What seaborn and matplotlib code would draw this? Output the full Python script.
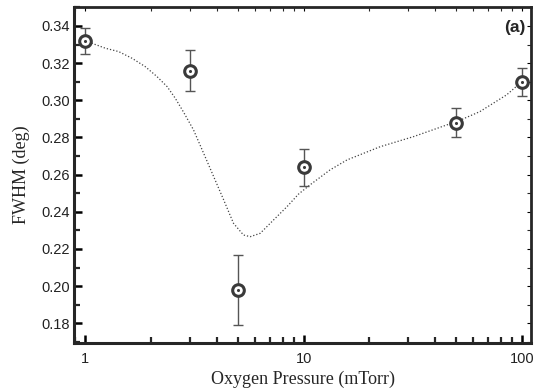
import numpy as np
import pandas as pd
import matplotlib
matplotlib.use("Agg")
import matplotlib.pyplot as plt
import seaborn as sns
from matplotlib.ticker import FixedLocator, LogLocator, MultipleLocator, NullFormatter

# Data
pressure = [1, 3, 5, 10, 50, 100]
fwhm = [0.332, 0.316, 0.198, 0.264, 0.288, 0.310]
err = [0.007, 0.011, 0.019, 0.010, 0.008, 0.0075]

fit_x = [1.0, 1.07, 1.235, 1.42, 1.635, 1.88, 2.13, 2.37, 2.58, 2.82, 3.13, 3.48, 3.87,
         4.30, 4.77, 5.30, 5.69, 6.32, 7.28, 8.38, 9.47, 10.7, 13.2, 15.8, 22.4, 31.8,
         45.2, 50.3, 64.2, 85.1, 100.0]
fit_y = [0.332, 0.3307, 0.328, 0.3262, 0.3226, 0.3181, 0.3127, 0.3073, 0.3011, 0.2935,
         0.284, 0.2715, 0.2589, 0.2464, 0.2338, 0.2275, 0.2266, 0.2284, 0.2356, 0.2427,
         0.2495, 0.2545, 0.2625, 0.2679, 0.275, 0.2804, 0.2867, 0.2885, 0.2939, 0.3029,
         0.310]

xticks = [1, 10, 100]
xticklabels = ["1", "10", "100"]
yticks = [0.18, 0.20, 0.22, 0.24, 0.26, 0.28, 0.30, 0.32, 0.34]

sns.set_style("ticks")
plt.rcParams['font.family'] = ['Liberation Sans', 'DejaVu Sans']

fig = plt.figure(figsize=(5.39, 3.88), dpi=100)
ax = fig.add_axes([0.138, 0.117, 0.847, 0.865])

df_fit = pd.DataFrame({"x": fit_x, "y": fit_y})
df = pd.DataFrame({"x": pressure, "y": fwhm, "e": err})

ax.set_xscale("log")
sns.lineplot(data=df_fit, x="x", y="y", ax=ax, color="#444444", linestyle=(0, (1, 1.6)),
             linewidth=0.9, estimator=None, sort=True)

ax.errorbar(df["x"], df["y"], yerr=df["e"], fmt="none", ecolor="#555555",
            elinewidth=1.0, capsize=3.5, capthick=1.0, zorder=3)
sns.scatterplot(data=df, x="x", y="y", ax=ax, s=70, marker="o", facecolor="white",
                edgecolor="#3a3a3a", linewidth=2.2, zorder=4)
sns.scatterplot(data=df, x="x", y="y", ax=ax, s=5, marker="o", color="#3a3a3a",
                linewidth=0, zorder=5)

ax.set_xlim(0.89, 110)
ax.set_ylim(0.1696, 0.3502)

ax.xaxis.set_major_locator(FixedLocator(xticks))
ax.set_xticklabels(xticklabels)
ax.xaxis.set_minor_locator(LogLocator(base=10, subs=np.arange(2, 10)))
ax.xaxis.set_minor_formatter(NullFormatter())
ax.yaxis.set_major_locator(FixedLocator(yticks))
ax.set_yticklabels([f"{v:.2f}" for v in yticks])
ax.yaxis.set_minor_locator(MultipleLocator(0.01))

ax.tick_params(axis="both", which="major", direction="in", length=6, width=1.8,
               labelsize=10.5, color="black", labelcolor="#222222")
ax.tick_params(axis="both", which="minor", direction="in", length=4, width=1.6)
ax.tick_params(axis="x", which="both", top=True, pad=7)
ax.tick_params(axis="y", which="both", right=True)

for axis in (ax.xaxis, ax.yaxis):
    for tick in axis.get_major_ticks() + axis.get_minor_ticks():
        tick.tick2line.set_markeredgewidth(0.8)
        tick.tick2line.set_markersize(3)

for side in ["left", "bottom"]:
    ax.spines[side].set_linewidth(2.2)
for side in ["top", "right"]:
    ax.spines[side].set_linewidth(2.0)
    ax.spines[side].set_visible(True)

ax.set_xlabel("Oxygen Pressure (mTorr)", family=["Liberation Serif"], fontsize=13, labelpad=3)
ax.set_ylabel("FWHM (deg)", family=["Liberation Serif"], fontsize=13, labelpad=8)

ax.text(0.988, 0.96, "(a)", transform=ax.transAxes, ha="right", va="top",
        fontsize=12.5, fontweight="bold")

fig.savefig("out.png", dpi=100)
